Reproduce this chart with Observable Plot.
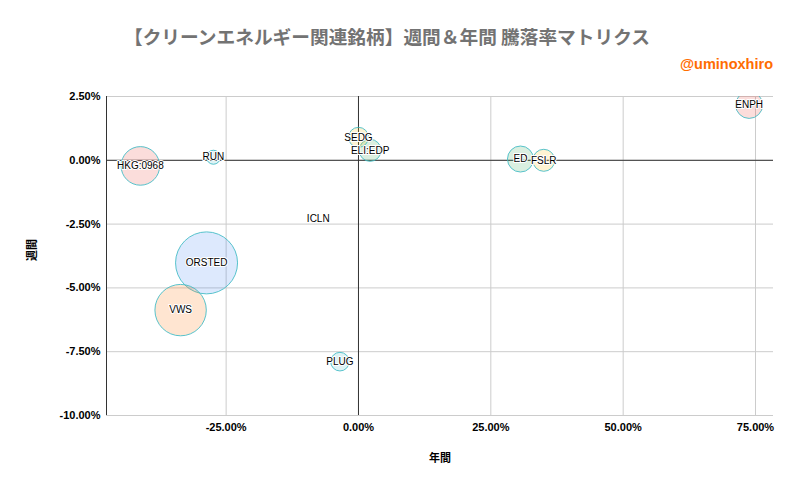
<!DOCTYPE html>
<html>
<head>
<meta charset="utf-8">
<script src="https://cdn.jsdelivr.net/npm/d3@7"></script>
<script src="https://cdn.jsdelivr.net/npm/@observablehq/plot@0.6"></script>
<style>
  html, body { margin: 0; padding: 0; background: #fff; }
  #wrap { position: relative; width: 797px; height: 493px; overflow: hidden; }
  #title { position: absolute; left: 124px; top: 25px; white-space: nowrap;
    font-family: "Noto Sans CJK JP", sans-serif; font-weight: bold; font-size: 18.7px;
    line-height: 22px; color: #737373; }
  #handle { position: absolute; right: 24px; top: 55px; white-space: nowrap;
    font-family: "Liberation Sans", Arial, sans-serif; font-weight: bold; font-size: 14.5px;
    line-height: 18px; color: #ff6d01; }
  #chart { position: absolute; left: 0; top: 85px; }
</style>
</head>
<body>
<div id="wrap">
  <div id="title">【クリーンエネルギー関連銘柄】週間＆年間 騰落率マトリクス</div>
  <div id="handle">@uminoxhiro</div>
  <div id="chart"></div>
</div>
<script>
const names  = ["ENPH", "SEDG", "ELI:EDP", "ED", "FSLR", "HKG:0968", "RUN", "ICLN", "ORSTED", "VWS", "PLUG"];
const annual = [73.8, 0.0, 2.2, 30.6, 35.0, -41.2, -27.4, -7.6, -28.7, -33.6, -3.5];
const weekly = [2.17, 0.9, 0.39, 0.05, 0.0, -0.22, 0.12, -2.31, -4.02, -5.87, -7.89];
const sizes  = [13.5, 10, 11, 13, 11, 19.3, 7, 0, 31, 25.7, 9.3];
const groups = ["B", "C", "D", "D", "C", "B", "F", "F", "A", "E", "F"];
const groupNames  = ["A", "B", "C", "D", "E", "F"];
const groupColors = ["#4285f4", "#ea4335", "#fbbc04", "#34a853", "#ff6d01", "#46bdc6"];
const xTicks = [-25, 0, 25, 50, 75];
const yTicks = [2.5, 0, -2.5, -5, -7.5, -10];

const data = names.map((n, i) => ({name: n, x: annual[i], y: weekly[i], s: sizes[i], g: groups[i]}));
const fmt = d => d.toFixed(2) + "%";
const xMin = -47.6, xMax = 78.4;

const chart = Plot.plot({
  width: 797,
  height: 408,
  marginTop: 11,
  marginBottom: 78,
  marginLeft: 106,
  marginRight: 24,
  style: {fontFamily: "'Liberation Sans', Arial, sans-serif", background: "transparent", overflow: "visible"},
  x: {domain: [xMin, xMax]},
  y: {domain: [-10, 2.5]},
  r: {type: "linear", domain: [0, 31], range: [0, 31]},
  color: {domain: groupNames, range: groupColors},
  marks: [
    Plot.gridX(xTicks, {stroke: "#cccccc", strokeOpacity: 1}),
    Plot.gridY(yTicks, {stroke: "#cccccc", strokeOpacity: 1}),
    Plot.ruleY([0], {stroke: "#333333"}),
    Plot.ruleX([0], {stroke: "#333333"}),
    Plot.ruleX([xMin], {stroke: "#333333"}),
    Plot.axisX(xTicks, {tickSize: 0, tickPadding: 8, tickFormat: fmt, fontWeight: "bold", fontSize: 11, label: null, fill: "#000"}),
    Plot.axisY(yTicks, {tickSize: 0, tickPadding: 6, tickFormat: fmt, fontWeight: "bold", fontSize: 11, label: null, fill: "#000"}),
    Plot.dot(data, {x: "x", y: "y", r: "s", fill: "g", fillOpacity: 0.18, stroke: "#46bdc6", strokeOpacity: 0.9, strokeWidth: 1, clip: true}),
    Plot.text(data, {x: "x", y: "y", text: "name", fontSize: 10, fill: "#000", stroke: "white", strokeWidth: 2, style: "letter-spacing:0.4px"}),
    Plot.text(["年間"], {frameAnchor: "bottom", dy: 46, text: d => d, fontSize: 11, fontWeight: "bold", fill: "#000", fontFamily: "'Noto Sans CJK JP', sans-serif"}),
    Plot.text(["週間"], {frameAnchor: "left", dx: -74, dy: 5, rotate: -90, text: d => d, fontSize: 11, fontWeight: "bold", fill: "#000", fontFamily: "'Noto Sans CJK JP', sans-serif"})
  ]
});
document.getElementById("chart").appendChild(chart);
</script>
</body>
</html>
